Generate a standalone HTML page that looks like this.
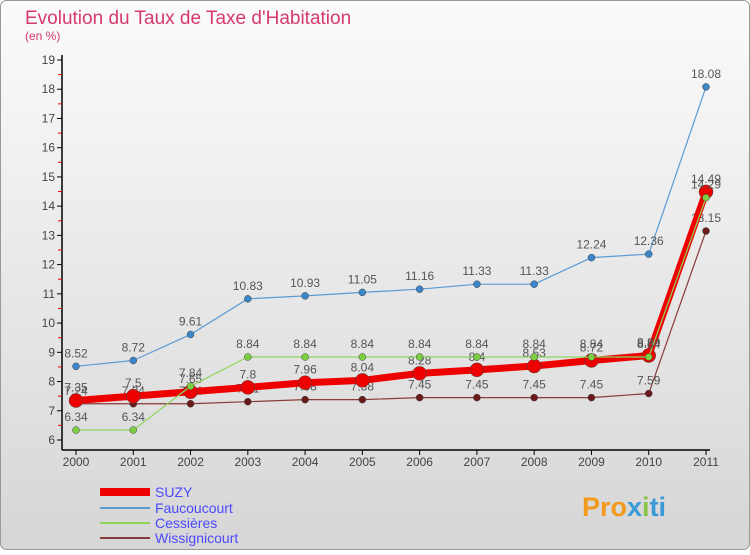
<!DOCTYPE html>
<html><head><meta charset="utf-8"><style>
body{margin:0;background:#fff}
#c{position:relative;width:750px;height:550px;font-family:"Liberation Sans",sans-serif}
</style></head><body>
<div id="c">
<svg id="s" width="750" height="550" xmlns="http://www.w3.org/2000/svg">
<defs><linearGradient id="bg" x1="0" y1="0" x2="0" y2="1"><stop offset="0" stop-color="#fbfbfb"/><stop offset="1" stop-color="#d6d6d6"/></linearGradient></defs>
<rect x="0.5" y="0.5" width="749" height="549" rx="6" fill="url(#bg)" stroke="#999"/>
<text x="25" y="24" font-size="19" fill="#d63a6a">Evolution du Taux de Taxe d'Habitation</text>
<text x="25" y="40" font-size="12" fill="#d63a6a">(en %)</text>
<g id="axes"></g><g id="series"></g><g id="legend"></g>
<text x="582" y="516" font-size="27" font-weight="bold" fill="#f29a1e">Pro<tspan fill="#3a9ad9">x</tspan><tspan fill="#8bc34a">i</tspan><tspan fill="#3a9ad9">ti</tspan></text>
</svg></div>
<script>
const years=[2000,2001,2002,2003,2004,2005,2006,2007,2008,2009,2010,2011];
const suzy=[7.35,7.5,7.65,7.8,7.96,8.04,8.28,8.4,8.53,8.72,8.89,14.49];
const fauc=[8.52,8.72,9.61,10.83,10.93,11.05,11.16,11.33,11.33,12.24,12.36,18.08];
const cess=[6.34,6.34,7.84,8.84,8.84,8.84,8.84,8.84,8.84,8.84,8.84,14.29];
const wiss=[7.24,7.24,7.24,7.31,7.38,7.38,7.45,7.45,7.45,7.45,7.59,13.15];
const yTicks=[6,7,8,9,10,11,12,13,14,15,16,17,18,19];
const NS="http://www.w3.org/2000/svg";
const X=i=>76+i*(630/11), Y=v=>440-(v-6)*(380/13);
function mk(p,t,a){const e=document.createElementNS(NS,t);for(const k in a)e.setAttribute(k,a[k]);p.appendChild(e);return e;}
const ax=document.getElementById('axes');
let l=mk(ax,'line',{x1:62,y1:55,x2:62,y2:450,stroke:'#000','stroke-width':1.5});


l=mk(ax,'line',{x1:62,y1:450,x2:710,y2:450,stroke:'#000','stroke-width':1.5});


yTicks.forEach(v=>{
 mk(ax,'line',{x1:57,y1:Y(v),x2:62,y2:Y(v),stroke:'#000'});
 if(v<19)mk(ax,'line',{x1:58,y1:Y(v+0.5),x2:62,y2:Y(v+0.5),stroke:'#e00'});
 const t=mk(ax,'text',{x:55,y:Y(v)+4,'font-size':12,fill:'#444','text-anchor':'end'});t.textContent=v;
 
 
});
years.forEach((y,i)=>{
 mk(ax,'line',{x1:X(i),y1:450,x2:X(i),y2:455,stroke:'#000'});
 const t=mk(ax,'text',{x:X(i),y:466,'font-size':12,fill:'#444','text-anchor':'middle'});t.textContent=y;
 
 
});
const sg=document.getElementById('series');
function draw(d,col,w,r,name,dot){
 const g=mk(sg,'g',{});
 
 
 mk(g,'polyline',{points:d.map((v,i)=>X(i)+','+Y(v)).join(' '),fill:'none',stroke:col,'stroke-width':w,'stroke-linejoin':'round'});
 d.forEach((v,i)=>{
  const c=mk(g,'circle',{cx:X(i),cy:Y(v),r:r,fill:dot,stroke:'#444','stroke-width':0.5});
  
  
  const t=mk(g,'text',{x:X(i),y:Y(v)-9,'font-size':12,fill:'#555','text-anchor':'middle'});t.textContent=v;
  
  
 });
}
draw(fauc,'#5b9bd5',1.2,3.5,'faucoucourt-series','#3a86c8');
draw(wiss,'#8a3a3a',1.2,3.5,'wissignicourt-series','#6a1a1a');
draw(suzy,'#ee0000',7,7,'suzy-series','#ee0000');
draw(cess,'#8ed65a',1.2,3.5,'cessieres-series','#7ad040');
const lg=document.getElementById('legend');
[['SUZY','#ee0000',8,492],['Faucoucourt','#5b9bd5',2,508],['Cessières','#8ed65a',2,523],['Wissignicourt','#8a3a3a',2,538]].forEach(a=>{
 const g=mk(lg,'g',{});
 
 
 mk(g,'line',{x1:100,y1:a[3],x2:150,y2:a[3],stroke:a[1],'stroke-width':a[2]});
 const t=mk(g,'text',{x:155,y:a[3]+5,'font-size':14,fill:'#4a4aff'});t.textContent=a[0];
});
</script></body></html>
